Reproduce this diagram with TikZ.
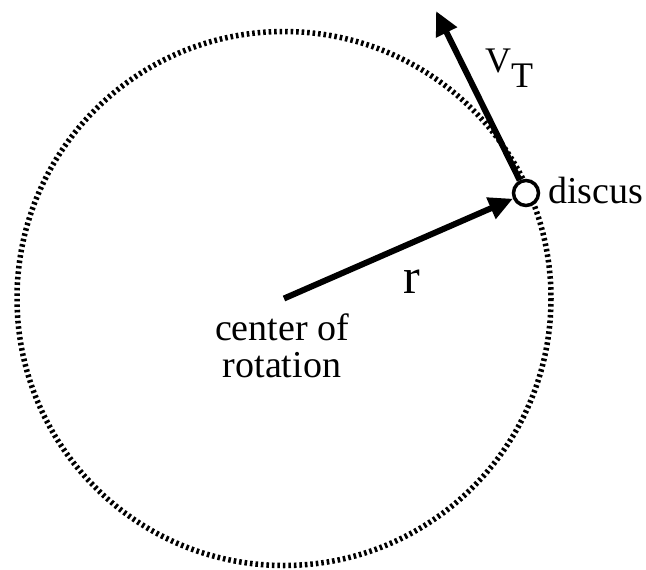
\documentclass[tikz,border=0pt]{standalone}
\usepackage{fontspec}
\setmainfont{Liberation Serif}
\usetikzlibrary{arrows.meta}
\begin{document}
\begin{tikzpicture}[x=1pt,y=-1pt,
  orbit/.style={line width=5.5pt,dash pattern=on 2.6pt off 2.9pt},
  vecarrow/.style={line width=6pt,-{Triangle[length=24pt,width=22pt]}},
  discusstyle/.style={circle,draw,fill=white,line width=3.5pt,minimum size=25pt,inner sep=0pt},
  lbl/.style={inner sep=0pt,font=\fontsize{38}{44}\selectfont}]
\useasboundingbox (0,0) rectangle (646,570);
\coordinate (ctr) at (284,298.5);
\draw[orbit] (ctr) circle[radius=267];
\node[discusstyle] (discus) at (526,193) {};
\coordinate (vtip) at (436,11);
\draw[vecarrow] (ctr) -- (discus);
\draw[vecarrow] (discus) -- (vtip);
\node[lbl,anchor=base west] (dlabel) at (548,203) {discus};
\node[lbl,anchor=base] (c1) at (282,340) {center of};
\node[lbl,anchor=base] (c2) at (282,377) {rotation};
\node[inner sep=0pt,anchor=base,font=\fontsize{50}{56}\selectfont] (rlabel) at (412,293) {r};
\node[lbl,font=\fontsize{36}{40}\selectfont,anchor=base west] (vlabel) at (485,72) {V\raisebox{-15pt}{T}};
\end{tikzpicture}
\end{document}
